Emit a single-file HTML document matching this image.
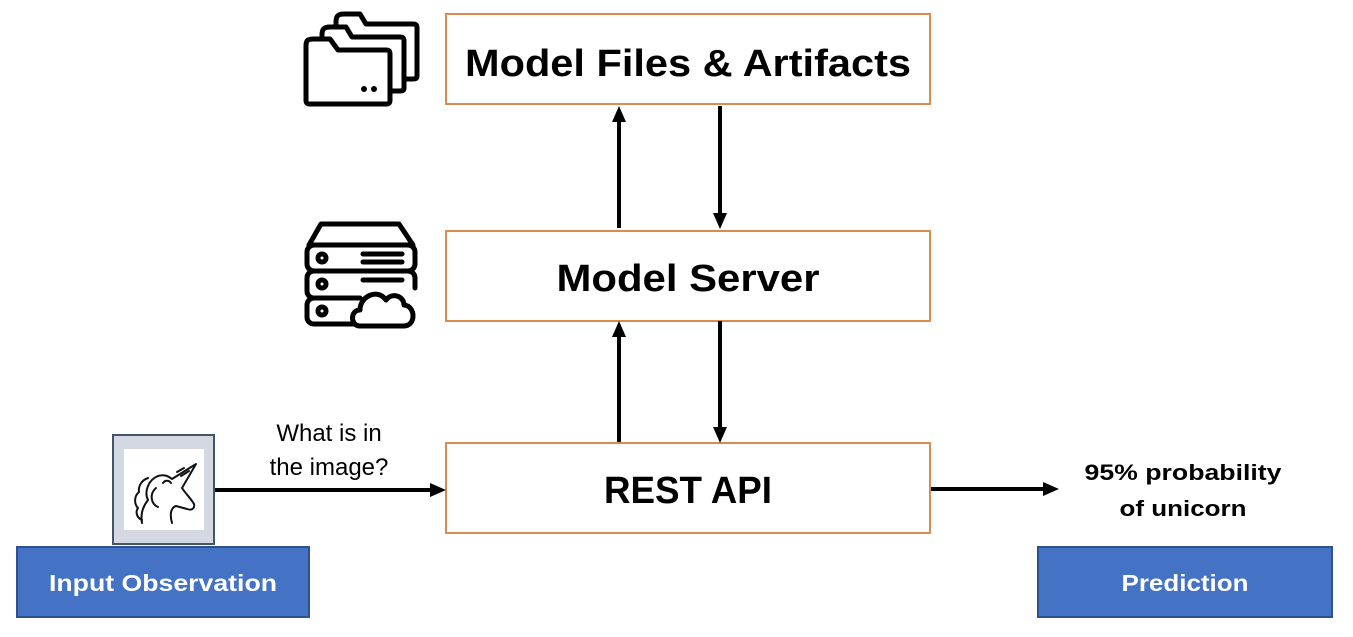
<!DOCTYPE html>
<html><head><meta charset="utf-8"><style>
html,body{margin:0;padding:0;background:#fff;}
svg{display:block;font-family:"Liberation Sans",sans-serif;}
</style></head><body>
<svg width="1353" height="637" viewBox="0 0 1353 637" xmlns="http://www.w3.org/2000/svg">
<rect width="1353" height="637" fill="#fff"/>
<rect x="446" y="14" width="484" height="90" fill="#fff" stroke="#d98c4f" stroke-width="2"/>
<rect x="446" y="231" width="484" height="90" fill="#fff" stroke="#d98c4f" stroke-width="2"/>
<rect x="446" y="443" width="484" height="90" fill="#fff" stroke="#d98c4f" stroke-width="2"/>
<text x="688" y="76" font-size="38" font-weight="bold" text-anchor="middle" textLength="446" lengthAdjust="spacingAndGlyphs">Model Files &amp; Artifacts</text>
<text x="688" y="291" font-size="38" font-weight="bold" text-anchor="middle" textLength="263" lengthAdjust="spacingAndGlyphs">Model Server</text>
<text x="688" y="503" font-size="38" font-weight="bold" text-anchor="middle" textLength="168" lengthAdjust="spacingAndGlyphs">REST API</text>
<g stroke="#000" stroke-width="4" fill="none">
<line x1="619" y1="228" x2="619" y2="115"/>
<line x1="720" y1="106" x2="720" y2="218"/>
<line x1="619" y1="442" x2="619" y2="330"/>
<line x1="720" y1="321" x2="720" y2="432"/>
<line x1="214" y1="490" x2="434" y2="490"/>
<line x1="931" y1="489" x2="1046" y2="489"/>
</g>
<g fill="#000">
<path d="M612,122 L619,106 L626,122 z"/>
<path d="M713,213 L720,229 L727,213 z"/>
<path d="M612,337 L619,321 L626,337 z"/>
<path d="M713,427 L720,443 L727,427 z"/>
<path d="M430,483 L446,490 L430,497 z"/>
<path d="M1043,482 L1059,489 L1043,496 z"/>
</g>
<text x="329" y="441" font-size="24" text-anchor="middle">What is in</text>
<text x="329" y="475" font-size="24" text-anchor="middle">the image?</text>
<text x="1183" y="480" font-size="22" font-weight="bold" text-anchor="middle" textLength="197" lengthAdjust="spacingAndGlyphs">95% probability</text>
<text x="1183" y="516" font-size="22" font-weight="bold" text-anchor="middle" textLength="127" lengthAdjust="spacingAndGlyphs">of unicorn</text>
<rect x="113" y="435" width="101" height="109" fill="#d3d8e2" stroke="#44546a" stroke-width="2"/>
<rect x="124" y="449" width="80" height="81" fill="#fff"/>
<g stroke="#111" stroke-width="2" fill="none" stroke-linecap="round" stroke-linejoin="round">
<path d="M142,523 C140,512 144,505 148,500 C144,492 148,480 158,476 C164,474 168,476 172,479 L196,464 L182,488 C186,494 192,500 194,504 C195,508 192,511 187,509 L176,506 C170,508 170,516 172,523"/>
<path d="M156,488 C149,494 151,504 158,507"/>
<path d="M163,483 C165,480 169,480 171,483"/>
<path d="M148,478 C142,480 138,486 139,492 C134,496 134,504 138,508 C135,512 137,518 142,520"/>
<line x1="181" y1="476" x2="189" y2="471"/>
<line x1="177" y1="472" x2="184" y2="468"/>
</g>
<rect x="17" y="547" width="292" height="70" fill="#4472c4" stroke="#2f528f" stroke-width="2"/>
<text x="163" y="591" font-size="23" font-weight="bold" fill="#fff" text-anchor="middle" textLength="228" lengthAdjust="spacingAndGlyphs">Input Observation</text>
<rect x="1038" y="547" width="294" height="70" fill="#4472c4" stroke="#2f528f" stroke-width="2"/>
<text x="1185" y="591" font-size="23" font-weight="bold" fill="#fff" text-anchor="middle" textLength="127" lengthAdjust="spacingAndGlyphs">Prediction</text>
<g stroke="#000" stroke-width="5" fill="#fff" stroke-linejoin="round">
<path d="M336,22 C336,16 338,14 344,14 L360,14 L366,24 L413,24 C416,24 417,25 417,28 L417,76 C417,78 416,79 413,79 L336,79 z"/>
<path d="M322,35 C322,29 324,27 330,27 L346,27 L352,37 L400,37 C403,37 404,38 404,41 L404,88 C404,90 403,91 400,91 L322,91 z"/>
<path d="M306,46 C306,40 308,39 314,39 L330,39 L338,50 L386,50 C389,50 390,51 390,54 L390,100 C390,103 389,104 386,104 L310,104 C307,104 306,103 306,100 z"/>
</g>
<circle cx="364" cy="89" r="3" fill="#000"/><circle cx="374" cy="89" r="3" fill="#000"/>
<g stroke="#000" stroke-width="5" fill="none" stroke-linecap="round" stroke-linejoin="round">
<path d="M309,245 L321,224 L399,224 L413,245"/>
<rect x="307" y="245" width="108" height="26" rx="7" fill="#fff"/>
<path d="M360,298 L314,298 C310,298 307,295 307,291 L307,278 C307,274 310,271 314,271 L408,271 C412,271 415,274 415,278 L415,288"/>
<path d="M355,324 L314,324 C310,324 307,321 307,317 L307,305 C307,301 310,298 314,298 L345,298"/>
<circle cx="322" cy="258" r="4"/><circle cx="322" cy="284" r="4"/><circle cx="322" cy="311" r="4"/>
<line x1="363" y1="254" x2="402" y2="254"/><line x1="363" y1="262" x2="402" y2="262"/><line x1="363" y1="280" x2="402" y2="280"/>
<path d="M360,326 C350,326 350,310 360,310 C360,296 378,288 386,300 C392,292 404,296 404,305 C416,306 416,326 404,326 z" fill="#fff"/>
</g>
</svg>
</body></html>
